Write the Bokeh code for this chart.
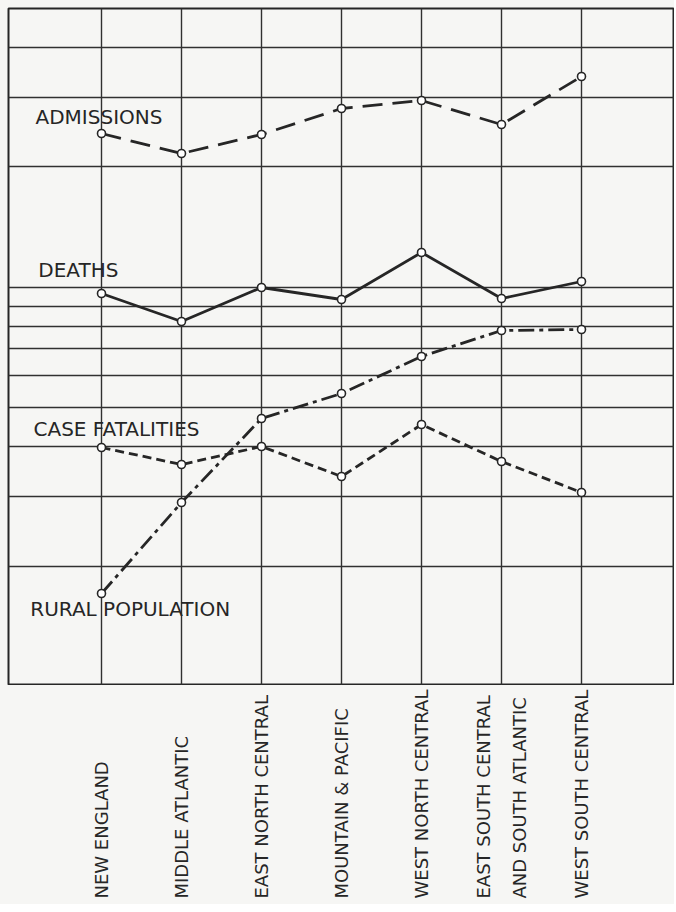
import math
from bokeh.plotting import figure
from bokeh.models import Range1d, Grid, FixedTicker, ColumnDataSource
from bokeh.layouts import column
from bokeh.core.properties import value
from bokeh.embed import file_html
from bokeh.resources import INLINE

# ---- data (index units, 0 = bottom of the grid) ----
regions = ["NEW ENGLAND", "MIDDLE ATLANTIC", "EAST NORTH CENTRAL",
           "MOUNTAIN & PACIFIC", "WEST NORTH CENTRAL",
           "EAST SOUTH CENTRAL\nAND SOUTH ATLANTIC", "WEST SOUTH CENTRAL"]
admissions = [552, 532, 551, 577, 585, 561, 609]
deaths = [392, 364, 398, 386, 433, 387, 404]
case_fatalities = [238, 221, 239, 209, 261, 224, 193]
rural_population = [92, 183, 267, 292, 329, 355, 356]
grid_levels = [638, 588, 519, 398, 379, 359, 337, 310, 278, 239, 189, 119]
series_names = ["ADMISSIONS", "DEATHS", "CASE FATALITIES", "RURAL POPULATION"]

BG = "#f6f6f4"
INK = "#262626"
FONT = "DejaVu Sans"

xs = list(range(len(regions)))
x_range = Range1d(-1.1625, len(regions) - 1 + 1.1625)

p = figure(width=674, height=685, x_range=x_range, y_range=Range1d(0, 677),
           x_axis_location=None, y_axis_location=None,
           output_backend="svg", toolbar_location=None,
           background_fill_color=BG, border_fill_color=BG,
           min_border=0, min_border_left=8, min_border_right=0,
           min_border_top=8, min_border_bottom=0)
p.grid.grid_line_color = None
p.outline_line_color = INK
p.outline_line_width = 2

p.add_layout(Grid(dimension=0, ticker=FixedTicker(ticks=xs),
                  grid_line_color="#303030", grid_line_width=1.4))
p.add_layout(Grid(dimension=1, ticker=FixedTicker(ticks=grid_levels),
                  grid_line_color="#303030", grid_line_width=1.4))

series = [
    (admissions, "20 10"),
    (deaths, "solid"),
    (case_fatalities, "9 5"),
    (rural_population, "16 5 4 5"),
]
for vals, dash in series:
    p.line(xs, vals, line_color=INK, line_width=2.8, line_dash=dash)
for vals, dash in series:
    p.scatter(xs, vals, marker="circle", size=8, fill_color="white",
              line_color=INK, line_width=1.6)

# series labels, placed left of the first region
lab_src = ColumnDataSource(dict(
    x=[-0.825, -0.79, -0.85, -0.89],
    y=[569, 416, 257, 77],
    t=series_names,
))
p.text(x="x", y="y", text="t", source=lab_src, text_font=value(FONT),
       text_font_size="20px", text_color=INK, text_align="left",
       text_baseline="middle")

# bottom strip with rotated region labels
b = figure(width=674, height=219, x_range=x_range, y_range=Range1d(0, 219),
           x_axis_location=None, y_axis_location=None,
           output_backend="svg", toolbar_location=None,
           background_fill_color=BG, border_fill_color=BG,
           min_border=0, min_border_left=8, min_border_right=0,
           min_border_top=0, min_border_bottom=0)
b.grid.grid_line_color = None
b.outline_line_color = None
reg_src = ColumnDataSource(dict(x=xs, y=[6] * len(xs), t=regions))
b.text(x="x", y="y", text="t", source=reg_src, angle=math.pi / 2,
       text_font=value(FONT), text_font_size="18px", text_color=INK,
       text_align="left", text_baseline="middle", text_line_height=1.75)

layout = column(p, b, spacing=0, background=BG)
open("out.html", "w").write(file_html(layout, INLINE))
